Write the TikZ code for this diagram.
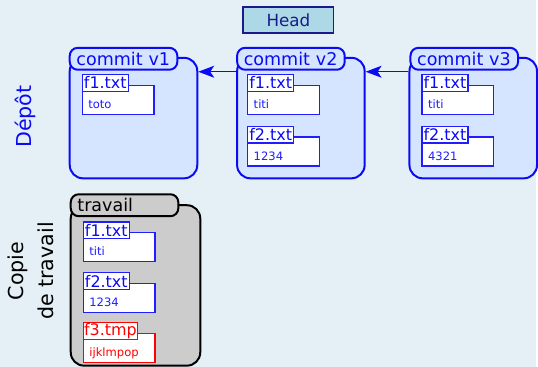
\documentclass[tikz,border=0pt]{standalone}
\usepackage{fontspec}
\setmainfont{DejaVu Sans}
\usepackage{xcolor}
\usetikzlibrary{arrows.meta,positioning}
\definecolor{RepoBlue}{HTML}{0A0AF5}
\definecolor{FileBlue}{HTML}{1E1EFF}
\definecolor{RepoLight}{HTML}{D5E5FF}
\definecolor{WorkGray}{HTML}{CCCCCC}
\definecolor{PageBack}{HTML}{E4EFF6}
\definecolor{HeadFill}{HTML}{ADD8E6}
\definecolor{HeadNavy}{HTML}{1A1A8C}
\definecolor{TmpRed}{HTML}{FF0000}
\tikzset{
  ckbody/.style={
    draw=RepoBlue,
    fill=RepoLight,
    line width=1.5pt,
    rounded corners=10pt,
    anchor=north west,
    minimum width=96pt,
    minimum height=90.75pt
  },
  cktab/.style={
    draw=RepoBlue,
    fill=RepoLight,
    text=RepoBlue,
    line width=1.5pt,
    rounded corners=6pt,
    anchor=north west,
    text width=71pt,
    align=left,
    inner xsep=5pt,
    inner ysep=0pt,
    minimum height=16.5pt,
    font=\fontsize{13.2}{15}\selectfont
  },
  ckwork/.style={draw=black, fill=WorkGray, text=black},
  ckfile/.style={
    draw=FileBlue,
    fill=white,
    text=FileBlue,
    line width=1pt,
    anchor=north west,
    text width=45pt,
    align=left,
    inner xsep=4.5pt,
    inner ysep=0pt,
    text height=17.25pt,
    text depth=4.5pt,
    font=\fontsize{8.7}{10}\selectfont
  },
  ckname/.style={
    draw=FileBlue,
    fill=white,
    text=RepoBlue,
    line width=1pt,
    anchor=north west,
    minimum width=34.5pt,
    minimum height=12.75pt,
    inner sep=0.5pt,
    font=\fontsize{12}{14}\selectfont
  },
  cktmp/.style={draw=TmpRed, text=TmpRed},
  ckhead/.style={
    draw=HeadNavy,
    fill=HeadFill,
    text=HeadNavy,
    line width=1pt,
    minimum width=68.25pt,
    minimum height=19.5pt,
    font=\fontsize{12.6}{15}\selectfont
  },
  ckside/.style={rotate=90, align=center, font=\fontsize{15.5}{22.5}\selectfont},
  ckflow/.style={-{Stealth[length=12pt,width=9pt,inset=3pt]}, line width=0.8pt, draw=RepoBlue}
}

\begin{document}
\begin{tikzpicture}[x=0.75pt, y=-0.75pt]
  \fill[PageBack] (0,0) rectangle (538,368);

  \node[ckhead] (head) at (289.5,20) {Head};

  % repository: three commits
  \node[ckside, text=RepoBlue] (repo) at (26,117) {Dépôt};

  \node[ckbody] (v1) at (69,57) {};
  \node[cktab] (v1tab) at (69,47) {commit v1};
  \node[ckfile] (v1f1) at (82,85) {toto};
  \node[ckname] (v1f1n) at (82,74) {f1.txt};

  \node[ckbody] (v2) at (237,57) {};
  \node[cktab] (v2tab) at (237,47) {commit v2};
  \node[ckfile] (v2f1) at (248,85) {titi};
  \node[ckname] (v2f1n) at (248,74) {f1.txt};
  \node[ckfile] (v2f2) at (248,137) {1234};
  \node[ckname] (v2f2n) at (248,126) {f2.txt};

  \node[ckbody] (v3) at (410,57) {};
  \node[cktab] (v3tab) at (411,47) {commit v3};
  \node[ckfile] (v3f1) at (423,85) {titi};
  \node[ckname] (v3f1n) at (423,74) {f1.txt};
  \node[ckfile] (v3f2) at (423,137) {4321};
  \node[ckname] (v3f2n) at (423,126) {f2.txt};

  \draw[ckflow] ([yshift=-11.25pt]v2.north west) -- ([yshift=-11.25pt]v1.north east);
  \draw[ckflow] ([yshift=-11.25pt]v3.north west) -- ([yshift=-11.25pt]v2.north east);

  % working copy
  \node[ckside] (work) at (31,272) {Copie\\de travail};

  \node[ckbody, ckwork, minimum width=97.5pt, minimum height=120.75pt] (wk) at (70,205) {};
  \node[cktab, ckwork] (wktab) at (70,194) {travail};
  \node[ckfile] (wkf1) at (83,233) {titi};
  \node[ckname] (wkf1n) at (83,222) {f1.txt};
  \node[ckfile] (wkf2) at (83,284) {1234};
  \node[ckname] (wkf2n) at (83,273) {f2.txt};
  \node[ckfile, cktmp] (wkf3) at (83,334) {ijklmpop};
  \node[ckname, cktmp] (wkf3n) at (83,323) {f3.tmp};
\end{tikzpicture}
\end{document}
